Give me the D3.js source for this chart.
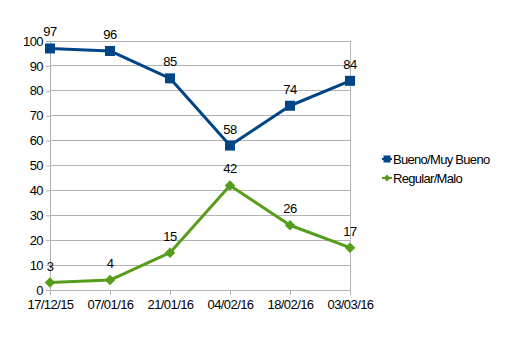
<!DOCTYPE html>
<html>
<head>
<meta charset="utf-8">
<script src="https://cdn.jsdelivr.net/npm/d3@7"></script>
<style>
  body { margin: 0; background: #fff; }
  text { font-family: "Liberation Sans", Arial, sans-serif; }
</style>
</head>
<body>
<svg id="chart" width="506" height="338"></svg>
<script>
// Survey dates and series
const fechas = ["17/12/15", "07/01/16", "21/01/16", "04/02/16", "18/02/16", "03/03/16"];
const buenoMuyBueno = [97, 96, 85, 58, 74, 84];
const regularMalo = [3, 4, 15, 42, 26, 17];
const yTicks = [0, 10, 20, 30, 40, 50, 60, 70, 80, 90, 100];
const seriesNames = ["Bueno/Muy Bueno", "Regular/Malo"];
const seriesColors = ["#004586", "#579d1c"];

const svg = d3.select("#chart");
const plot = { left: 50, right: 350, top: 41, bottom: 290 };

const x = d3.scalePoint().domain(fechas).range([plot.left, plot.right]).padding(0);
const y = d3.scaleLinear().domain([0, 100]).range([plot.bottom, plot.top]);

// Horizontal grid lines
svg.append("g")
  .selectAll("line")
  .data(yTicks)
  .join("line")
  .attr("x1", plot.left).attr("x2", plot.right)
  .attr("y1", d => y(d)).attr("y2", d => y(d))
  .attr("stroke", "#b3b3b3").attr("stroke-width", 1)
  .attr("shape-rendering", "crispEdges");

// Right border of the plot area
svg.append("line")
  .attr("x1", plot.right).attr("x2", plot.right)
  .attr("y1", plot.top).attr("y2", plot.bottom)
  .attr("stroke", "#b3b3b3").attr("shape-rendering", "crispEdges");

// Y axis
const yAxis = svg.append("g")
  .attr("transform", `translate(${plot.left},0)`)
  .call(d3.axisLeft(y).tickValues(yTicks).tickSize(4).tickPadding(3));
yAxis.select(".domain").attr("stroke", "#b3b3b3");
yAxis.selectAll(".tick line").attr("stroke", "#b3b3b3");
yAxis.selectAll(".tick text")
  .attr("fill", "#000").attr("font-size", 13).attr("letter-spacing", -0.6)
  .attr("font-family", "Liberation Sans, Arial, sans-serif");

// X axis
const xAxis = svg.append("g")
  .attr("transform", `translate(0,${plot.bottom})`)
  .call(d3.axisBottom(x).tickSize(5).tickPadding(5));
xAxis.select(".domain").attr("stroke", "#b3b3b3");
xAxis.selectAll(".tick line").attr("stroke", "#b3b3b3");
xAxis.selectAll(".tick text")
  .attr("fill", "#000").attr("font-size", 13).attr("letter-spacing", -0.6)
  .attr("font-family", "Liberation Sans, Arial, sans-serif");

const line = d3.line().x((d, i) => x(fechas[i])).y(d => y(d));

const series = [buenoMuyBueno, regularMalo];
series.forEach((vals, s) => {
  const g = svg.append("g");
  g.append("path")
    .datum(vals)
    .attr("d", line)
    .attr("fill", "none")
    .attr("stroke", seriesColors[s])
    .attr("stroke-width", 3)
    .attr("stroke-linejoin", "round");

  if (s === 0) {
    g.selectAll("rect").data(vals).join("rect")
      .attr("x", (d, i) => x(fechas[i]) - 5)
      .attr("y", d => y(d) - 5)
      .attr("width", 10).attr("height", 10)
      .attr("fill", seriesColors[s]);
  } else {
    g.selectAll("path.m").data(vals).join("path")
      .attr("class", "m")
      .attr("d", d3.symbol().type(d3.symbolDiamond2).size(70))
      .attr("transform", (d, i) => `translate(${x(fechas[i])},${y(d)})`)
      .attr("fill", seriesColors[s]);
  }

  // Value labels above each point
  g.selectAll("text").data(vals).join("text")
    .attr("x", (d, i) => x(fechas[i]))
    .attr("y", d => y(d) - 12)
    .attr("text-anchor", "middle")
    .attr("font-size", 13).attr("letter-spacing", -0.6)
    .attr("fill", "#000")
    .text(d => d);
});

// Legend
const legend = svg.append("g");
seriesNames.forEach((name, s) => {
  const ly = 159 + s * 19;
  const lx = 387;
  legend.append("line")
    .attr("x1", lx - 5).attr("x2", lx + 5)
    .attr("y1", ly).attr("y2", ly)
    .attr("stroke", seriesColors[s]).attr("stroke-width", 2);
  if (s === 0) {
    legend.append("rect")
      .attr("x", lx - 3.5).attr("y", ly - 3.5)
      .attr("width", 7).attr("height", 7)
      .attr("fill", seriesColors[s]);
  } else {
    legend.append("path")
      .attr("d", d3.symbol().type(d3.symbolDiamond2).size(30))
      .attr("transform", `translate(${lx},${ly})`)
      .attr("fill", seriesColors[s]);
  }
  legend.append("text")
    .attr("x", lx + 6).attr("y", ly + 4.5)
    .attr("font-size", 13).attr("letter-spacing", -0.7)
    .attr("fill", "#000")
    .text(name);
});
</script>
</body>
</html>
